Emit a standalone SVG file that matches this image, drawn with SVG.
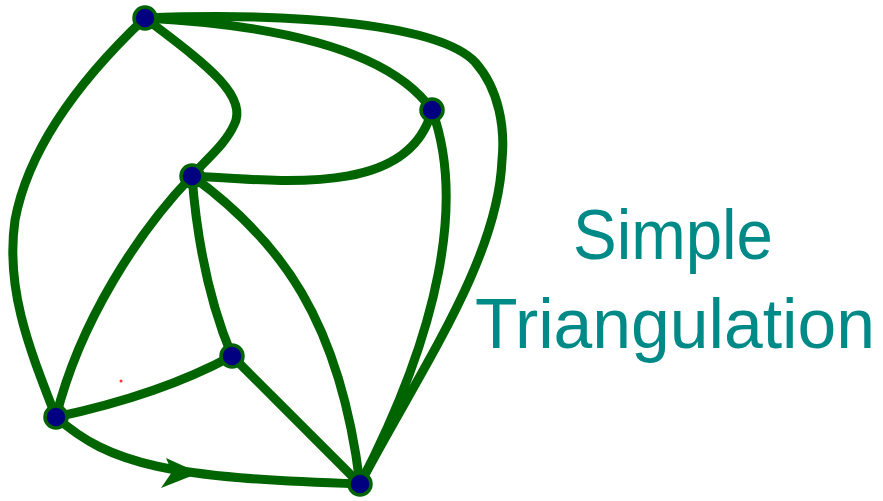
<svg xmlns="http://www.w3.org/2000/svg" width="883" height="501" viewBox="0 0 883 501">
<style>
.e{fill:none;stroke:#006400;stroke-width:9;stroke-linecap:round}
.n{fill:#000080;stroke:#006400;stroke-width:3.5}
.t{fill:#008a87;font-family:"Liberation Sans",Arial,sans-serif;font-size:70px}
</style>
<rect width="883" height="501" fill="#fff"/>
<g id="connectors">
<path class="e" d="M145,18 C90,70 30,140 15,220 C5,290 30,350 56,417"/>
<path class="e" d="M145,18 C200,60 250,95 234,125 C225,145 205,160 192,176"/>
<path class="e" d="M145,18 C280,25 390,50 432,110"/>
<path class="e" d="M145,18 C300,12 440,25 475,62 C500,90 505,130 502,160 C498,260 420,370 360,484"/>
<path class="e" d="M192,176 C290,182 410,195 432,110"/>
<path class="e" d="M432,110 C465,200 440,330 360,484"/>
<path class="e" d="M192,176 C140,230 80,320 56,417"/>
<path class="e" d="M192,176 Q200,280 232,356"/>
<path class="e" d="M192,176 C280,240 340,320 360,484"/>
<path class="e" d="M232,356 Q160,395 56,417"/>
<path class="e" d="M232,356 L360,484"/>
<path class="e" d="M56,417 C110,465 170,478 360,484"/>
<polygon points="166,458 199,473 161,488 172,472" fill="#006400"/>
</g>
<circle cx="121" cy="381" r="1.5" fill="#ff3333"/>
<g id="nA"><circle class="n" cx="145" cy="18" r="11"/></g>
<g id="nB"><circle class="n" cx="432" cy="110" r="11"/></g>
<g id="nC"><circle class="n" cx="192" cy="176" r="11"/></g>
<g id="nD"><circle class="n" cx="232" cy="356" r="11"/></g>
<g id="nE"><circle class="n" cx="56" cy="417" r="11"/></g>
<g id="nF"><circle class="n" cx="360" cy="484" r="11"/></g>
<g id="title">
<text class="t" x="573" y="259" textLength="200" lengthAdjust="spacingAndGlyphs">Simple</text>
<text class="t" x="475" y="348" textLength="400" lengthAdjust="spacingAndGlyphs">Triangulation</text>
</g>
</svg>
